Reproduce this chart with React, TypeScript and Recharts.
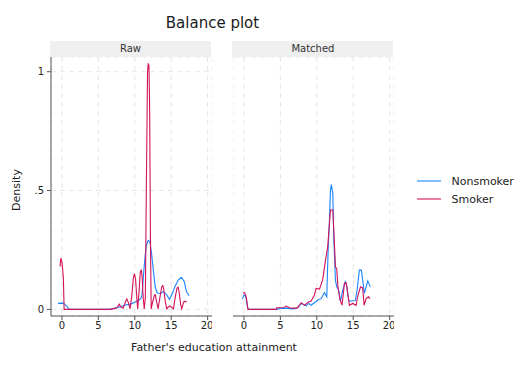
import React from 'react'
import { LineChart, Line, XAxis, YAxis, CartesianGrid } from 'recharts'

const seriesNames = ['Nonsmoker', 'Smoker']
const seriesColors = ['#1a85ff', '#d41159']
const panelTitles = ['Raw', 'Matched']
const xTicks = [0, 5, 10, 15, 20]
const yTicks = [0, 0.5, 1]
const yTickLabels = ['0', '.5', '1']

// Raw sample, father's education kernel densities
const rawNonsmokerX = [-0.55, 0.2, 0.5, 0.8, 1.0, 6.6, 7.3, 8.0, 8.7, 9.4, 10.0, 10.6, 10.8, 11.0, 11.2, 11.4, 11.6, 11.8, 11.9, 12.1, 12.3, 12.55, 12.8, 13.0, 13.2, 13.5, 13.9, 14.2, 14.4, 14.75, 15.07, 15.5, 15.97, 16.4, 16.8, 17.1, 17.45]
const rawNonsmokerY = [0.025, 0.026, 0.018, 0.008, 0.0, 0.0, 0.005, 0.011, 0.018, 0.022, 0.03, 0.039, 0.045, 0.06, 0.145, 0.22, 0.27, 0.287, 0.29, 0.28, 0.236, 0.165, 0.095, 0.074, 0.068, 0.067, 0.074, 0.067, 0.06, 0.042, 0.06, 0.095, 0.123, 0.135, 0.116, 0.074, 0.058]

const rawSmokerX = [-0.25, -0.15, 0.0, 0.1, 0.2, 0.3, 6.7, 7.0, 7.3, 7.6, 7.85, 8.1, 8.4, 8.7, 8.9, 9.1, 9.35, 9.6, 9.8, 9.95, 10.1, 10.3, 10.4, 10.6, 10.75, 10.9, 11.0, 11.15, 11.3, 11.45, 11.6, 11.75, 11.85, 11.95, 12.05, 12.15, 12.25, 12.45, 12.7, 12.8, 12.95, 13.2, 13.45, 13.7, 13.85, 14.0, 14.2, 14.4, 14.6, 14.8, 15.0, 15.3, 15.55, 15.8, 15.95, 16.1, 16.3, 16.45, 16.7, 16.9, 17.1]
const rawSmokerY = [0.18, 0.215, 0.2, 0.17, 0.13, 0.0, 0.0, 0.003, 0.004, 0.008, 0.022, 0.01, 0.005, 0.03, 0.044, 0.03, 0.002, 0.06, 0.13, 0.15, 0.13, 0.04, 0.002, 0.08, 0.155, 0.167, 0.14, 0.05, 0.002, 0.05, 0.55, 1.0, 1.035, 1.025, 0.82, 0.3, 0.002, 0.03, 0.06, 0.062, 0.04, 0.002, 0.05, 0.095, 0.1, 0.08, 0.03, 0.002, 0.01, 0.014, 0.01, 0.002, 0.05, 0.09, 0.093, 0.07, 0.02, 0.002, 0.03, 0.034, 0.03]

// Matched sample
const matchedNonsmokerX = [-0.2, 0.0, 0.15, 0.3, 0.5, 0.6, 4.5, 5.0, 6.0, 6.5, 7.0, 7.5, 7.86, 8.2, 8.55, 8.9, 9.2, 9.68, 10.13, 10.6, 11.05, 11.37, 11.56, 11.74, 11.88, 12.0, 12.2, 12.33, 12.56, 12.74, 13.0, 13.25, 13.56, 13.9, 14.1, 14.38, 14.6, 14.93, 15.3, 15.53, 15.85, 16.12, 16.3, 16.53, 16.77, 17.0, 17.2, 17.35]
const matchedNonsmokerY = [0.043, 0.06, 0.06, 0.045, 0.01, 0.0, 0.0, 0.004, 0.005, 0.002, 0.003, 0.01, 0.025, 0.02, 0.015, 0.025, 0.017, 0.028, 0.039, 0.045, 0.07, 0.053, 0.25, 0.376, 0.502, 0.525, 0.488, 0.305, 0.123, 0.095, 0.081, 0.034, 0.081, 0.116, 0.1, 0.039, 0.034, 0.036, 0.037, 0.081, 0.165, 0.165, 0.123, 0.067, 0.095, 0.12, 0.105, 0.095]

const matchedSmokerX = [-0.15, 0.1, 0.33, 0.55, 4.4, 4.5, 5.5, 5.8, 6.26, 6.9, 7.3, 7.86, 8.3, 8.8, 9.2, 9.68, 9.9, 10.37, 10.8, 11.2, 11.5, 11.74, 11.88, 12.2, 12.42, 12.56, 12.74, 12.9, 13.2, 13.47, 13.8, 14.03, 14.25, 14.48, 14.93, 15.4, 15.6, 16.0, 16.3, 16.5, 16.77, 17.1, 17.3]
const matchedSmokerY = [0.07, 0.07, 0.05, 0.0, 0.0, 0.007, 0.008, 0.014, 0.007, 0.005, 0.005, 0.028, 0.017, 0.03, 0.034, 0.06, 0.088, 0.085, 0.123, 0.207, 0.263, 0.362, 0.418, 0.418, 0.278, 0.179, 0.17, 0.095, 0.039, 0.018, 0.11, 0.112, 0.067, 0.017, 0.025, 0.017, 0.053, 0.095, 0.09, 0.017, 0.045, 0.053, 0.045]

const toPoints = (xs: number[], ys: number[]) => xs.map((x, i) => ({ x, y: ys[i] }))

const panels = [
  [toPoints(rawNonsmokerX, rawNonsmokerY), toPoints(rawSmokerX, rawSmokerY)],
  [toPoints(matchedNonsmokerX, matchedNonsmokerY), toPoints(matchedSmokerX, matchedSmokerY)],
]

const FONT = '"DejaVu Sans", sans-serif'
const PLOT_TOP = 57
const PLOT_H = 259
const PLOT_W = 161
const Y_AXIS_W = 51
const AXIS_H = 30
const PANEL_LEFT = [Y_AXIS_W, 233.4]
const AXIS_COLOR = '#555'
const GRID_COLOR = '#e6e6e6'

function Panel({ index }: { index: number }) {
  const showY = index === 0
  const left = showY ? 0 : PANEL_LEFT[index]
  const width = showY ? Y_AXIS_W + PLOT_W : PLOT_W
  return (
    <div style={{ position: 'absolute', left, top: PLOT_TOP }}>
      <LineChart width={width} height={PLOT_H + AXIS_H} margin={{ top: 0, right: 0, bottom: 0, left: 0 }}>
        <CartesianGrid stroke={GRID_COLOR} strokeDasharray="5 4" />
        <XAxis
          type="number"
          dataKey="x"
          domain={[-1.5, 20.6]}
          ticks={xTicks}
          allowDataOverflow
          height={AXIS_H}
          stroke={AXIS_COLOR}
          tickSize={4}
          tickMargin={2}
          tick={{ fill: '#222', fontSize: 10, fontFamily: FONT }}
        />
        <YAxis
          type="number"
          domain={[-0.028, 1.062]}
          ticks={yTicks}
          allowDataOverflow
          width={showY ? Y_AXIS_W : 0}
          hide={false}
          axisLine={showY ? { stroke: AXIS_COLOR } : false}
          tickLine={showY ? { stroke: AXIS_COLOR } : false}
          tick={showY ? { fill: '#222', fontSize: 10, fontFamily: FONT } : false}
          tickSize={4}
          tickMargin={3}
          tickFormatter={(v: number) => yTickLabels[yTicks.indexOf(v)]}
        />
        {panels[index].map((pts, s) => (
          <Line
            key={seriesNames[s]}
            data={pts}
            dataKey="y"
            name={seriesNames[s]}
            type="linear"
            stroke={seriesColors[s]}
            strokeWidth={1.1}
            dot={false}
            isAnimationActive={false}
          />
        ))}
      </LineChart>
    </div>
  )
}

export default function App() {
  return (
    <div style={{ position: 'absolute', left: 0, top: 0, width: 528, height: 384, background: '#fff', fontFamily: FONT }}>
      {panelTitles.map((t, i) => (
        <div
          key={t}
          style={{
            position: 'absolute', left: PANEL_LEFT[i] - 1, top: 41, width: PLOT_W, height: 16,
            background: '#efefef', color: '#333', fontSize: 10, lineHeight: '16px', textAlign: 'center',
          }}
        >
          {t}
        </div>
      ))}
      <Panel index={0} />
      <Panel index={1} />
      <svg width={528} height={384} style={{ position: 'absolute', left: 0, top: 0, pointerEvents: 'none' }}>
        <text x={212.5} y={28} textAnchor="middle" fontSize={15} fill="#1a1a1a" fontFamily={FONT}>Balance plot</text>
        <text transform="translate(19.5,190) rotate(-90)" textAnchor="middle" fontSize={11} fill="#222" fontFamily={FONT}>Density</text>
        <text x={214} y={351} textAnchor="middle" fontSize={11} fill="#222" fontFamily={FONT}>Father's education attainment</text>
        {seriesNames.map((n, i) => (
          <g key={n}>
            <line x1={417} x2={441} y1={181 + i * 18} y2={181 + i * 18} stroke={seriesColors[i]} strokeWidth={1.1} />
            <text x={451.5} y={185 + i * 18} fontSize={11} fill="#222" fontFamily={FONT}>{n}</text>
          </g>
        ))}
      </svg>
    </div>
  )
}
